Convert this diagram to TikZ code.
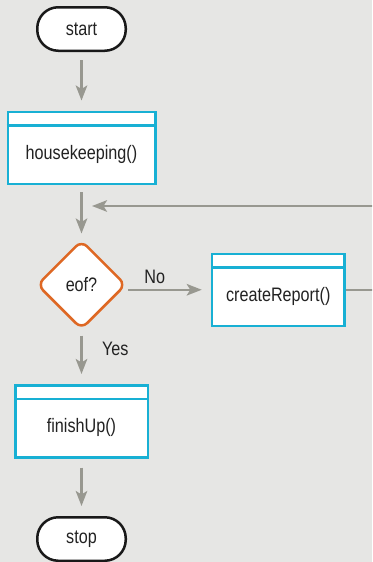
\documentclass[tikz,border=0pt]{standalone}
\usepackage{fontspec}
\setmainfont[FakeStretch=0.83]{Liberation Sans}
\usetikzlibrary{shapes.geometric,positioning,arrows.meta}

\definecolor{paper}{RGB}{230,230,228}
\definecolor{flowgray}{RGB}{152,152,144}
\definecolor{modcyan}{RGB}{24,176,212}
\definecolor{decorange}{RGB}{222,104,36}
\definecolor{ink}{RGB}{34,34,34}

\begin{document}
\begin{tikzpicture}[
    >={Stealth[length=15pt,width=11.5pt,inset=3.5pt]},
    every node/.style={font=\fontsize{19.5}{21}\selectfont, text=ink},
    terminal/.style={draw=black!90, fill=white, line width=2.5pt, rounded corners=21pt,
        minimum width=88.5pt, minimum height=43.5pt},
    module/.style={draw=modcyan, fill=white, line width=2.5pt, minimum height=72pt,
        text height=27pt, text depth=4pt,
        append after command={([yshift=-15pt]\tikzlastnode.north west)
            edge[draw=modcyan, line width=2.5pt] ([yshift=-15pt]\tikzlastnode.north east)}},
    decision/.style={diamond, draw=decorange, fill=white, line width=2.5pt, rounded corners=8pt,
        minimum width=89pt, minimum height=89pt, inner sep=0pt},
    flow/.style={->, draw=flowgray, line width=2.4pt, shorten <=8pt, shorten >=10pt}
]
    \clip (0,0) rectangle (372pt,-562pt);
    \fill[paper] (0,0) rectangle (372pt,-562pt);

    \node[terminal] (start) at (81.5pt,-29pt) {start};
    \node[module, minimum width=147.5pt, below=58.5pt of start] (housekeeping) {housekeeping()};
    \node[decision, below=54pt of housekeeping] (eof) {eof?};
    \node[module, minimum width=132.5pt, right=83.5pt of eof, yshift=-5pt] (report) {createReport()};
    \node[module, minimum width=132.5pt, below=53.5pt of eof] (finish) {finishUp()};
    \node[terminal, below=57.5pt of finish] (stop) {stop};
    \coordinate[below=21pt of housekeeping.south] (merge);

    \draw[flow] (start) -- (housekeeping);
    \draw[flow, shorten <=7pt, shorten >=5.5pt] (housekeeping) -- (eof);
    \draw[flow, shorten <=1pt, shorten >=9pt] (eof.east |- report.west) -- node[above=2pt, pos=0.33] {No} (report.west);
    \draw[flow, shorten <=5pt] (eof) -- node[right=16pt, pos=0.34] {Yes} (finish);
    \draw[flow, shorten <=9pt] (finish) -- (stop);

    % loop back from the report module
    \draw[flow, shorten <=0pt, shorten >=10.5pt] (report.east) -- ++(40pt,0) |- (merge);
\end{tikzpicture}
\end{document}
